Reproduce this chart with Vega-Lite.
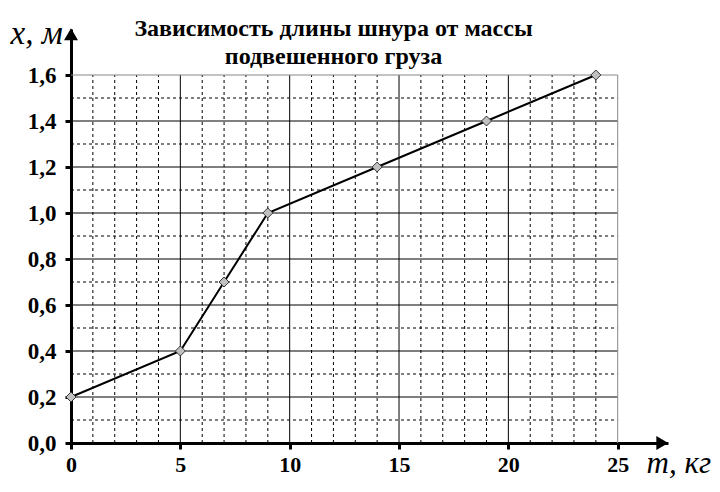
{
  "$schema": "https://vega.github.io/schema/vega-lite/v6.json",
  "autosize": "none",
  "width": 597,
  "height": 414,
  "padding": {"left": 71, "top": 29, "right": 52, "bottom": 49},
  "background": "white",
  "title": {
    "text": ["Зависимость длины шнура от массы", "подвешенного груза"],
    "font": "Liberation Serif",
    "fontSize": 24,
    "fontWeight": "bold",
    "color": "#000",
    "anchor": "middle",
    "frame": "group",
    "lineHeight": 28,
    "baseline": "top",
    "dx": -36,
    "dy": 56
  },
  "config": {
    "view": {"stroke": null},
    "axis": {"grid": false, "labelFlush": false}
  },
  "datasets": {
    "points": [
      {"m": 0, "x": 0.2},
      {"m": 5, "x": 0.4},
      {"m": 7, "x": 0.7},
      {"m": 9, "x": 1.0},
      {"m": 14, "x": 1.2},
      {"m": 19, "x": 1.4},
      {"m": 24, "x": 1.6}
    ],
    "minorV": [
      {"m": 1}, {"m": 2}, {"m": 3}, {"m": 4}, {"m": 6}, {"m": 7}, {"m": 8}, {"m": 9},
      {"m": 11}, {"m": 12}, {"m": 13}, {"m": 14}, {"m": 16}, {"m": 17}, {"m": 18}, {"m": 19},
      {"m": 21}, {"m": 22}, {"m": 23}, {"m": 24}
    ],
    "majorV": [{"m": 5}, {"m": 10}, {"m": 15}, {"m": 20}],
    "minorH": [
      {"x": 0.1}, {"x": 0.3}, {"x": 0.5}, {"x": 0.7}, {"x": 0.9}, {"x": 1.1}, {"x": 1.3}, {"x": 1.5}
    ],
    "majorH": [
      {"x": 0.2}, {"x": 0.4}, {"x": 0.6}, {"x": 0.8}, {"x": 1.0}, {"x": 1.2}, {"x": 1.4}
    ]
  },
  "layer": [
    {
      "data": {"name": "minorV"},
      "mark": {"type": "rule", "stroke": "#000", "strokeWidth": 1, "strokeDash": [3, 3]},
      "encoding": {
        "x": {
          "field": "m", "type": "quantitative",
          "scale": {"domain": [0, 27.3], "nice": false, "zero": true},
          "axis": {
            "values": [0, 5, 10, 15, 20, 25],
            "domainColor": "#000", "domainWidth": 3,
            "tickColor": "#000", "tickWidth": 3, "tickSize": 6,
            "labelFont": "Liberation Serif", "labelFontSize": 22, "labelFontWeight": "bold",
            "labelColor": "#000", "labelPadding": 5, "labelFlush": false,
            "title": "m, кг",
            "titleFont": "Liberation Serif", "titleFontSize": 31, "titleFontStyle": "italic",
            "titleFontWeight": "normal", "titleColor": "#000",
            "titleAlign": "left", "titleBaseline": "alphabetic", "titleAnchor": "start",
            "titleX": 575, "titleY": 29
          }
        },
        "y": {
          "datum": 0, "type": "quantitative",
          "scale": {"domain": [0, 1.8], "nice": false, "zero": true},
          "axis": {
            "values": [0, 0.2, 0.4, 0.6, 0.8, 1.0, 1.2, 1.4, 1.6],
            "labelExpr": "replace(format(datum.value, '.1f'), '.', ',')",
            "domainColor": "#000", "domainWidth": 3,
            "tickColor": "#000", "tickWidth": 3, "tickSize": 6,
            "labelFont": "Liberation Serif", "labelFontSize": 23, "labelFontWeight": "bold",
            "labelColor": "#000", "labelPadding": 9, "labelFlush": false,
            "title": "x, м",
            "titleFont": "Liberation Serif", "titleFontSize": 33, "titleFontStyle": "italic",
            "titleFontWeight": "normal", "titleColor": "#000",
            "titleAngle": 0, "titleAlign": "left", "titleBaseline": "alphabetic",
            "titleX": -61, "titleY": 14
          }
        },
        "y2": {"datum": 1.6}
      }
    },
    {
      "data": {"name": "majorV"},
      "mark": {"type": "rule", "stroke": "#000", "strokeWidth": 1},
      "encoding": {
        "x": {"field": "m", "type": "quantitative"},
        "y": {"datum": 0, "type": "quantitative"},
        "y2": {"datum": 1.6}
      }
    },
    {
      "data": {"name": "minorH"},
      "mark": {"type": "rule", "stroke": "#000", "strokeWidth": 1, "strokeDash": [3, 3]},
      "encoding": {
        "y": {"field": "x", "type": "quantitative"},
        "x": {"datum": 0, "type": "quantitative"},
        "x2": {"datum": 25}
      }
    },
    {
      "data": {"name": "majorH"},
      "mark": {"type": "rule", "stroke": "#000", "strokeWidth": 1},
      "encoding": {
        "y": {"field": "x", "type": "quantitative"},
        "x": {"datum": 0, "type": "quantitative"},
        "x2": {"datum": 25}
      }
    },
    {
      "data": {"values": [{}]},
      "mark": {"type": "rule", "stroke": "#888", "strokeWidth": 1},
      "encoding": {
        "y": {"datum": 1.6, "type": "quantitative"},
        "x": {"datum": 0, "type": "quantitative"},
        "x2": {"datum": 25}
      }
    },
    {
      "data": {"values": [{}]},
      "mark": {"type": "rule", "stroke": "#888", "strokeWidth": 1},
      "encoding": {
        "x": {"datum": 25, "type": "quantitative"},
        "y": {"datum": 0, "type": "quantitative"},
        "y2": {"datum": 1.6}
      }
    },
    {
      "data": {"values": [{}]},
      "mark": {"type": "point", "shape": "triangle-right", "filled": true, "fill": "#000", "stroke": "#000", "size": 110, "opacity": 1},
      "encoding": {
        "x": {"datum": 27.02, "type": "quantitative"},
        "y": {"datum": 0, "type": "quantitative"}
      }
    },
    {
      "data": {"values": [{}]},
      "mark": {"type": "point", "shape": "triangle-up", "filled": true, "fill": "#000", "stroke": "#000", "size": 110, "opacity": 1},
      "encoding": {
        "x": {"datum": 0, "type": "quantitative"},
        "y": {"datum": 1.775, "type": "quantitative"}
      }
    },
    {
      "data": {"name": "points"},
      "mark": {"type": "line", "stroke": "#000", "strokeWidth": 2},
      "encoding": {
        "x": {"field": "m", "type": "quantitative"},
        "y": {"field": "x", "type": "quantitative"}
      }
    },
    {
      "data": {"name": "points"},
      "mark": {"type": "point", "shape": "diamond", "filled": true, "fill": "#c0c0c0", "stroke": "#333", "strokeWidth": 1, "size": 100, "opacity": 1},
      "encoding": {
        "x": {"field": "m", "type": "quantitative"},
        "y": {"field": "x", "type": "quantitative"}
      }
    }
  ]
}
